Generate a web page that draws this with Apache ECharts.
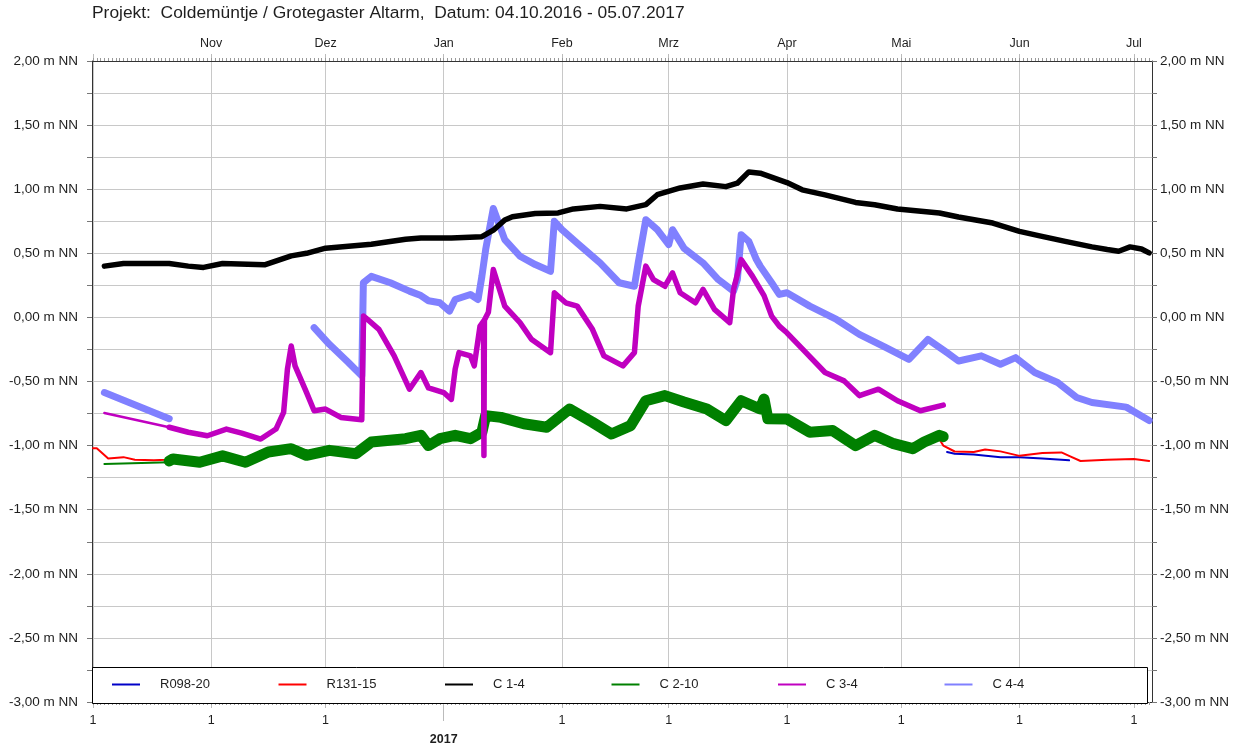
<!DOCTYPE html>
<html>
<head>
<meta charset="utf-8">
<title>Coldemüntje / Grotegaster Altarm</title>
<script src="https://cdn.jsdelivr.net/npm/echarts@6/dist/echarts.min.js"></script>
<style>
  html, body { margin: 0; padding: 0; background: #fff; }
  #chart { width: 1240px; height: 746px; }
</style>
</head>
<body>
<div id="chart"></div>
<script>
// ---- Texts and axis labels -------------------------------------------------
const titleText = 'Projekt:  Coldemüntje / Grotegaster Altarm,  Datum: 04.10.2016 - 05.07.2017';
const monthNames = ['Jan', 'Feb', 'Mrz', 'Apr', 'Mai', 'Jun', 'Jul', 'Aug', 'Sep', 'Okt', 'Nov', 'Dez'];
const monthStarts = ['2016-10-01', '2016-11-01', '2016-12-01', '2017-01-01', '2017-02-01',
                     '2017-03-01', '2017-04-01', '2017-05-01', '2017-06-01', '2017-07-01'];
const yearStart = '2017-01-01';
const yearLabel = '2017';
const unitLabel = ' m NN';
const seriesNames = ['R098-20', 'R131-15', 'C 1-4', 'C 2-10', 'C 3-4', 'C 4-4'];

// ---- Water levels (m NN) ---------------------------------------------------
const r09820 = [
  ['2017-05-13', -1.05], ['2017-05-15', -1.063], ['2017-05-20', -1.07], ['2017-05-27', -1.09],
  ['2017-06-01', -1.09], ['2017-06-07', -1.10], ['2017-06-14', -1.115]
];

const r13115 = [
  ['2016-10-01', -1.02], ['2016-10-02', -1.02], ['2016-10-05', -1.10], ['2016-10-09', -1.09],
  ['2016-10-12', -1.11], ['2016-10-17', -1.115], ['2016-10-20', -1.11], ['2016-10-23', -1.10],
  ['2016-10-29', -1.12], ['2016-11-04', -1.08], ['2016-11-10', -1.12], ['2016-11-16', -1.05],
  ['2016-11-22', -1.03], ['2016-11-26', -1.07], ['2016-12-02', -1.04], ['2016-12-09', -1.06],
  ['2016-12-13', -0.98], ['2016-12-22', -0.95], ['2016-12-27', -0.96], ['2016-12-31', -0.95],
  ['2017-01-04', -0.93], ['2017-01-08', -0.95], ['2017-01-11', -0.90], ['2017-01-12', -0.78],
  ['2017-01-16', -0.79], ['2017-01-22', -0.83], ['2017-01-28', -0.86], ['2017-02-03', -0.72],
  ['2017-02-09', -0.82], ['2017-02-14', -0.91], ['2017-02-19', -0.85], ['2017-02-23', -0.66],
  ['2017-02-28', -0.62], ['2017-03-05', -0.67], ['2017-03-11', -0.72], ['2017-03-16', -0.80],
  ['2017-03-20', -0.69], ['2017-03-25', -0.72], ['2017-03-27', -0.77], ['2017-04-01', -0.79],
  ['2017-04-07', -0.89], ['2017-04-13', -0.89], ['2017-04-19', -0.99], ['2017-04-24', -0.93],
  ['2017-04-29', -0.98], ['2017-05-04', -1.02], ['2017-05-07', -0.98], ['2017-05-11', -0.95],
  ['2017-05-12', -1.00], ['2017-05-15', -1.046], ['2017-05-20', -1.05], ['2017-05-23', -1.03],
  ['2017-05-27', -1.045], ['2017-06-01', -1.08], ['2017-06-07', -1.058], ['2017-06-12', -1.053],
  ['2017-06-14', -1.08], ['2017-06-17', -1.12], ['2017-06-24', -1.11], ['2017-07-01', -1.105],
  ['2017-07-05', -1.12]
];

const c14 = [
  ['2016-10-04', 0.40], ['2016-10-09', 0.42], ['2016-10-21', 0.42], ['2016-10-26', 0.40],
  ['2016-10-30', 0.39], ['2016-11-04', 0.42], ['2016-11-15', 0.41], ['2016-11-22', 0.48],
  ['2016-11-26', 0.50], ['2016-12-01', 0.54], ['2016-12-13', 0.57], ['2016-12-22', 0.61],
  ['2016-12-26', 0.62], ['2017-01-03', 0.62], ['2017-01-11', 0.63], ['2017-01-14', 0.68],
  ['2017-01-17', 0.76], ['2017-01-19', 0.785], ['2017-01-25', 0.81], ['2017-01-31', 0.815],
  ['2017-02-04', 0.846], ['2017-02-11', 0.866], ['2017-02-18', 0.846], ['2017-02-23', 0.88],
  ['2017-02-26', 0.957], ['2017-03-04', 1.01], ['2017-03-10', 1.04], ['2017-03-16', 1.02],
  ['2017-03-19', 1.047], ['2017-03-22', 1.135], ['2017-03-25', 1.125], ['2017-04-01', 1.052],
  ['2017-04-05', 0.995], ['2017-04-11', 0.956], ['2017-04-19', 0.897], ['2017-04-24', 0.879],
  ['2017-04-30', 0.845], ['2017-05-11', 0.814], ['2017-05-16', 0.783], ['2017-05-25', 0.736],
  ['2017-06-01', 0.671], ['2017-06-06', 0.638], ['2017-06-13', 0.593], ['2017-06-20', 0.55],
  ['2017-06-24', 0.529], ['2017-06-27', 0.516], ['2017-06-30', 0.55], ['2017-07-03', 0.534],
  ['2017-07-05', 0.503]
];

// C 2-10: two manual readings, then logger record
const c210Hand = [['2016-10-04', -1.143], ['2016-10-21', -1.13]];
const c210Logger = [
  ['2016-10-21', -1.12], ['2016-10-22', -1.104], ['2016-10-29', -1.13], ['2016-11-04', -1.08],
  ['2016-11-10', -1.13], ['2016-11-16', -1.05], ['2016-11-22', -1.024], ['2016-11-26', -1.076],
  ['2016-12-02', -1.037], ['2016-12-09', -1.063], ['2016-12-13', -0.972], ['2016-12-22', -0.946],
  ['2016-12-26', -0.92], ['2016-12-28', -1.0], ['2016-12-31', -0.946], ['2017-01-04', -0.92],
  ['2017-01-08', -0.946], ['2017-01-11', -0.896], ['2017-01-12', -0.766], ['2017-01-16', -0.78],
  ['2017-01-22', -0.83], ['2017-01-28', -0.857], ['2017-02-03', -0.715], ['2017-02-09', -0.818],
  ['2017-02-14', -0.909], ['2017-02-19', -0.844], ['2017-02-23', -0.65], ['2017-02-28', -0.61],
  ['2017-03-05', -0.66], ['2017-03-11', -0.715], ['2017-03-16', -0.805], ['2017-03-20', -0.65],
  ['2017-03-25', -0.715], ['2017-03-26', -0.637], ['2017-03-27', -0.79], ['2017-04-01', -0.793],
  ['2017-04-07', -0.896], ['2017-04-13', -0.883], ['2017-04-19', -1.0], ['2017-04-24', -0.92],
  ['2017-04-29', -0.985], ['2017-05-04', -1.024], ['2017-05-07', -0.972], ['2017-05-11', -0.92],
  ['2017-05-12', -0.93]
];

// C 3-4: two manual readings, then logger record
const c34Hand = [['2016-10-04', -0.746], ['2016-10-21', -0.857]];
const c34Logger = [
  ['2016-10-21', -0.857], ['2016-10-26', -0.896], ['2016-10-31', -0.923], ['2016-11-05', -0.871],
  ['2016-11-09', -0.902], ['2016-11-14', -0.949], ['2016-11-18', -0.871], ['2016-11-20', -0.741],
  ['2016-11-21', -0.404], ['2016-11-22', -0.223], ['2016-11-23', -0.378], ['2016-11-26', -0.585],
  ['2016-11-28', -0.728], ['2016-12-01', -0.715], ['2016-12-05', -0.78], ['2016-12-10 12:00', -0.799],
  ['2016-12-10 23:00', 0.01], ['2016-12-12', -0.016], ['2016-12-15', -0.093], ['2016-12-19', -0.30],
  ['2016-12-23', -0.56], ['2016-12-26', -0.43], ['2016-12-28', -0.55], ['2017-01-01', -0.586],
  ['2017-01-03', -0.64], ['2017-01-04', -0.404], ['2017-01-05', -0.275], ['2017-01-08', -0.30],
  ['2017-01-09', -0.378], ['2017-01-10 12:00', -0.07], ['2017-01-11 10:00', -0.03],
  ['2017-01-11 13:00', -1.077], ['2017-01-11 16:00', -0.02], ['2017-01-12 17:00', 0.04],
  ['2017-01-14', 0.373], ['2017-01-17', 0.088], ['2017-01-21', -0.041], ['2017-01-24', -0.17],
  ['2017-01-29', -0.275], ['2017-01-30', 0.192], ['2017-02-02', 0.114], ['2017-02-05', 0.088],
  ['2017-02-09', -0.093], ['2017-02-12', -0.30], ['2017-02-17', -0.378], ['2017-02-20', -0.275],
  ['2017-02-21', 0.088], ['2017-02-23', 0.40], ['2017-02-25', 0.295], ['2017-02-28', 0.243],
  ['2017-03-02', 0.347], ['2017-03-04', 0.192], ['2017-03-08', 0.114], ['2017-03-10', 0.218],
  ['2017-03-13', 0.062], ['2017-03-17', -0.041], ['2017-03-18', 0.218], ['2017-03-20', 0.451],
  ['2017-03-23', 0.32], ['2017-03-26', 0.17], ['2017-03-28', 0.01], ['2017-03-30', -0.068],
  ['2017-04-01', -0.12], ['2017-04-06', -0.275], ['2017-04-11', -0.43], ['2017-04-16', -0.495],
  ['2017-04-20', -0.61], ['2017-04-25', -0.56], ['2017-04-30', -0.65], ['2017-05-06', -0.728],
  ['2017-05-12', -0.684]
];

// C 4-4: no record between late October and late November
const c44 = [
  ['2016-10-04', -0.586], ['2016-10-21', -0.79], ['2016-11-10', null],
  ['2016-11-28', -0.08], ['2016-12-02', -0.21], ['2016-12-07', -0.352], ['2016-12-10 12:00', -0.456],
  ['2016-12-10 22:00', 0.27], ['2016-12-13', 0.32], ['2016-12-18', 0.27], ['2016-12-23', 0.205],
  ['2016-12-26', 0.17], ['2016-12-28', 0.13], ['2016-12-31', 0.114], ['2017-01-02 12:00', 0.049],
  ['2017-01-04', 0.14], ['2017-01-08', 0.179], ['2017-01-10', 0.14], ['2017-01-11', 0.32],
  ['2017-01-12', 0.53], ['2017-01-14', 0.85], ['2017-01-17', 0.607], ['2017-01-21', 0.477],
  ['2017-01-25', 0.412], ['2017-01-29', 0.36], ['2017-01-30', 0.75], ['2017-02-01', 0.684],
  ['2017-02-05', 0.58], ['2017-02-11', 0.425], ['2017-02-16', 0.27], ['2017-02-20', 0.243],
  ['2017-02-21', 0.425], ['2017-02-23', 0.762], ['2017-02-26', 0.684], ['2017-03-01', 0.568],
  ['2017-03-02', 0.684], ['2017-03-05', 0.54], ['2017-03-10', 0.425], ['2017-03-14', 0.295],
  ['2017-03-18', 0.205], ['2017-03-19', 0.295], ['2017-03-20', 0.645], ['2017-03-22', 0.593],
  ['2017-03-24', 0.451], ['2017-03-25', 0.40], ['2017-03-28', 0.27], ['2017-03-30', 0.179],
  ['2017-04-01', 0.192], ['2017-04-07', 0.088], ['2017-04-14', -0.016], ['2017-04-20', -0.132],
  ['2017-04-27', -0.236], ['2017-05-03', -0.327], ['2017-05-08', -0.171], ['2017-05-13', -0.275],
  ['2017-05-16', -0.34], ['2017-05-22', -0.30], ['2017-05-27', -0.365], ['2017-05-31', -0.314],
  ['2017-06-05', -0.43], ['2017-06-11', -0.508], ['2017-06-16', -0.625], ['2017-06-20', -0.664],
  ['2017-06-29', -0.70], ['2017-07-05', -0.804]
];

// ---- Chart -----------------------------------------------------------------
const FONT = '"Liberation Sans", Arial, Helvetica, sans-serif';
const TEXT = '#1e1e1e';
const GRID_LINE = '#c8c8c8';
const FRAME = '#333333';

// 'YYYY-MM-DD' or 'YYYY-MM-DD HH:mm' -> local timestamp
function toTime(s) {
  const [date, time] = s.split(' ');
  const [y, m, d] = date.split('-').map(Number);
  const [hh, mm] = (time || '0:0').split(':').map(Number);
  return new Date(y, m - 1, d, hh, mm).getTime();
}
const toPoints = (rows) => rows.map(([t, v]) => [toTime(t), v === null ? '-' : v]);

const xMin = new Date(2016, 8, 30, 18).getTime();
const xMax = new Date(2017, 6, 5, 18).getTime();
const monthTicks = monthStarts.map(toTime);
const dayTicks = [];
for (let i = 0; ; i++) {
  const t = new Date(2016, 9, 1 + i).getTime();
  if (t > xMax) break;
  dayTicks.push(t);
}
const yearTick = [toTime(yearStart)];

const yLabel = (v) => Math.abs(v * 2 - Math.round(v * 2)) < 1e-6
  ? v.toFixed(2).replace('.', ',') + unitLabel : '';

const baseX = { type: 'value', min: xMin, max: xMax, gridIndex: 0, scale: true };
const hidden = { show: false };
const frameLine = { show: true, onZero: false, lineStyle: { color: FRAME, width: 1 } };
const noLine = { show: false, onZero: false };

function lineSeries(name, rows, color, width, z) {
  return {
    name, type: 'line', data: toPoints(rows), color, z,
    showSymbol: false, symbol: 'none', connectNulls: false, animation: false,
    lineStyle: { color, width, join: 'round', cap: 'round' },
    emphasis: { disabled: true }
  };
}

// Legend box inside the plot, one evenly spaced entry per gauge
const LEGEND_BOX = { x: 92, y: 667, width: 1055, height: 37 };
const LEGEND_STEP = 166.5;
const legends = seriesNames.map((name, i) => ({
  data: [name],
  left: LEGEND_BOX.x + 20 + i * LEGEND_STEP,
  top: LEGEND_BOX.y + 11,
  padding: 0, z: 20,
  icon: 'rect', itemWidth: 28, itemHeight: 2,
  selectedMode: false,
  textStyle: { fontFamily: FONT, fontSize: 13, color: TEXT, padding: [0, 0, 0, 15] }
}));

const chart = echarts.init(document.getElementById('chart'), null, { renderer: 'canvas' });
chart.setOption({
  backgroundColor: '#ffffff',
  animation: false,
  title: {
    text: titleText, left: 92, top: 5, padding: 0,
    textStyle: { fontFamily: FONT, fontSize: 17.4, fontWeight: 'normal', color: TEXT }
  },
  grid: { left: 92, right: 88, top: 61, bottom: 42, containLabel: false },
  legend: legends,
  graphic: [{
    type: 'rect', z: 15, silent: true,
    shape: { x: LEGEND_BOX.x + 0.5, y: LEGEND_BOX.y + 0.5, width: LEGEND_BOX.width, height: LEGEND_BOX.height - 1 },
    style: { fill: '#ffffff', stroke: '#000000', lineWidth: 1 }
  }],
  xAxis: [
    { ...baseX, position: 'bottom', axisLine: frameLine,
      axisTick: { show: true, customValues: monthTicks, length: 6, lineStyle: { color: '#bbbbbb' } },
      axisLabel: { customValues: monthTicks, margin: 12, fontFamily: FONT, fontSize: 12.5, color: TEXT,
                   formatter: (v) => new Date(v).getMonth() === 0 ? '' : '1' },
      splitLine: { show: true, lineStyle: { color: GRID_LINE, width: 1 } } },
    { ...baseX, position: 'top', axisLine: frameLine,
      axisTick: { show: true, customValues: monthTicks, length: 7, lineStyle: { color: '#bbbbbb' } },
      axisLabel: { customValues: monthTicks, margin: 11, fontFamily: FONT, fontSize: 12.5, color: TEXT,
                   formatter: (v) => { const m = new Date(v).getMonth(); return m === 9 ? '' : monthNames[m]; } },
      splitLine: hidden },
    { ...baseX, position: 'bottom', axisLine: noLine, axisLabel: hidden, splitLine: hidden,
      axisTick: { show: true, customValues: dayTicks, length: 3, lineStyle: { color: '#9a9a9a' } } },
    { ...baseX, position: 'top', axisLine: noLine, axisLabel: hidden, splitLine: hidden,
      axisTick: { show: true, customValues: dayTicks, length: 3, lineStyle: { color: '#9a9a9a' } } },
    { ...baseX, position: 'bottom', axisLine: noLine, splitLine: hidden,
      axisTick: { show: true, customValues: yearTick, length: 19, lineStyle: { color: '#bbbbbb' } },
      axisLabel: { customValues: yearTick, margin: 31, fontFamily: FONT, fontSize: 12.5, fontWeight: 'bold',
                   color: TEXT, formatter: () => yearLabel } }
  ],
  yAxis: [
    { type: 'value', min: -3, max: 2, interval: 0.25, position: 'left',
      axisLine: frameLine,
      axisTick: { show: true, length: 5, lineStyle: { color: '#777777' } },
      axisLabel: { formatter: yLabel, margin: 14, fontFamily: FONT, fontSize: 13.5, color: TEXT },
      splitLine: { show: true, lineStyle: { color: GRID_LINE, width: 1 } } },
    { type: 'value', min: -3, max: 2, interval: 0.25, position: 'right',
      axisLine: frameLine,
      axisTick: { show: true, length: 5, lineStyle: { color: '#777777' } },
      axisLabel: { formatter: yLabel, margin: 8, fontFamily: FONT, fontSize: 13.5, color: TEXT },
      splitLine: hidden }
  ],
  series: [
    lineSeries(seriesNames[0], r09820, '#0000c8', 2, 2),
    lineSeries(seriesNames[1], r13115, '#ff0000', 2, 3),
    lineSeries(seriesNames[2], c14, '#000000', 5.5, 8),
    lineSeries(seriesNames[3], c210Hand, '#008000', 2, 4),
    lineSeries(seriesNames[3], c210Logger, '#008000', 11, 4),
    lineSeries(seriesNames[4], c34Hand, '#c000c0', 2.5, 6),
    lineSeries(seriesNames[4], c34Logger, '#c000c0', 5.5, 6),
    lineSeries(seriesNames[5], c44, '#8080ff', 7, 5)
  ]
});
</script>
</body>
</html>
